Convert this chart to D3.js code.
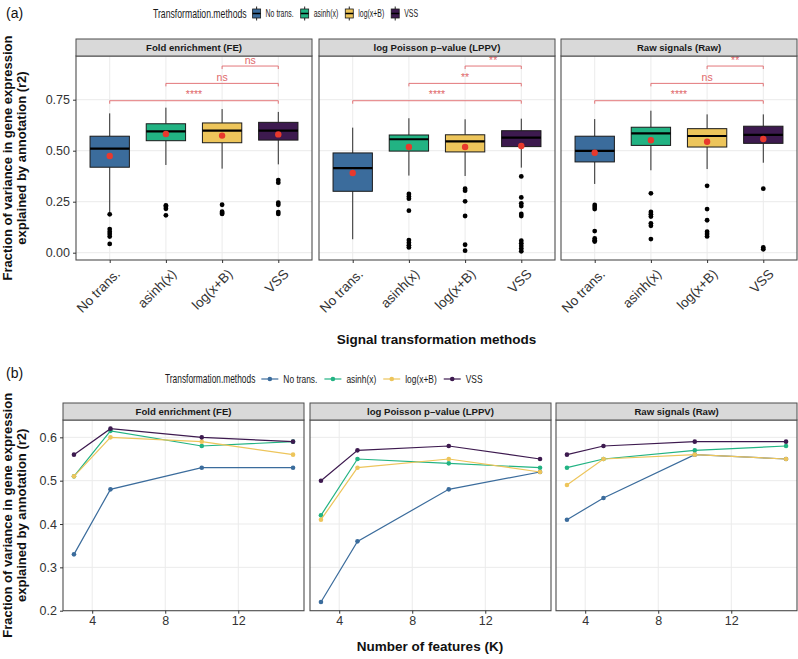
<!DOCTYPE html>
<html><head><meta charset="utf-8">
<script src="https://cdn.jsdelivr.net/npm/d3@7"></script>
<style>body{margin:0;background:#fff}svg{display:block}text{font-family:"Liberation Sans",Arial,Helvetica,sans-serif}</style>
</head><body><svg id="c" width="798" height="659"></svg>
<script>
// ---------------- DATA ----------------
const methods = ["No trans.", "asinh(x)", "log(x+B)", "VSS"];
const colors = ["#3B6C9C", "#22B383", "#EDC55B", "#3D1A4F"];
const signals = ["Fold enrichment (FE)", "log Poisson p\u2013value (LPPV)", "Raw signals (Raw)"];
const legendTitle = "Transformation.methods";

// box stats per method: [lower whisker, q1, median, q3, upper whisker]
const boxFE   = [[0.19,0.419,0.51,0.571,0.683],[0.43,0.549,0.595,0.632,0.711],[0.412,0.539,0.598,0.636,0.704],[0.433,0.552,0.598,0.639,0.69]];
const boxLPPV = [[0.066,0.301,0.415,0.489,0.613],[0.378,0.498,0.556,0.577,0.659],[0.376,0.494,0.546,0.578,0.654],[0.417,0.52,0.564,0.598,0.657]];
const boxRaw  = [[0.337,0.445,0.499,0.571,0.655],[0.404,0.526,0.585,0.615,0.696],[0.41,0.518,0.572,0.608,0.678],[0.441,0.536,0.578,0.62,0.678]];
const meanFE   = [0.474,0.582,0.574,0.58];
const meanLPPV = [0.391,0.518,0.518,0.523];
const meanRaw  = [0.49,0.551,0.544,0.557];
const outFE   = [[0.188,0.116,0.103,0.092,0.079,0.043],[0.232,0.225,0.215,0.183],[0.235,0.201,0.195,0.19],[0.356,0.343,0.245,0.235,0.199,0.19]];
const outLPPV = [[],[0.288,0.275,0.265,0.206,0.062,0.049,0.036,0.026],[0.314,0.304,0.252,0.18,0.039,0.01],[0.374,0.271,0.242,0.229,0.19,0.18,0.059,0.046,0.033,0.02,0.007]];
const outRaw  = [[0.234,0.224,0.214,0.106,0.07,0.061,0.055],[0.291,0.2,0.188,0.177,0.144,0.132,0.067],[0.328,0.214,0.159,0.103,0.092,0.08],[0.314,0.026,0.017]];

// significance brackets: method index pairs, bracket heights, labels per panel
const sigPairs = [[2,3],[1,3],[0,3]];
const sigHeights = [0.915, 0.83, 0.745];
const sigFE   = ["ns","ns","****"];
const sigLPPV = ["**","**","****"];
const sigRaw  = ["**","ns","****"];

const yTicksA = [0, 0.25, 0.5, 0.75];

// line panel
const features = [3, 5, 10, 15];
const lineFE   = [[0.33,0.48,0.53,0.53],[0.51,0.615,0.58,0.59],[0.51,0.60,0.59,0.56],[0.56,0.62,0.60,0.59]];
const lineLPPV = [[0.22,0.36,0.48,0.52],[0.42,0.55,0.54,0.53],[0.41,0.53,0.55,0.52],[0.50,0.57,0.58,0.55]];
const lineRaw  = [[0.41,0.46,0.56,0.55],[0.53,0.55,0.57,0.58],[0.49,0.55,0.56,0.55],[0.56,0.58,0.59,0.59]];
const yTicksB = [0.2, 0.3, 0.4, 0.5, 0.6];
const xTicksB = [4, 8, 12];

// ---------------- DRAW ----------------
const svg = d3.select("#c");
svg.append("rect").attr("width",798).attr("height",659).attr("fill","#fff");

const GRID="#EBEBEB", BORDER="#4d4d4d", SIG="#E0686B";
const boxes=[boxFE,boxLPPV,boxRaw], means=[meanFE,meanLPPV,meanRaw], outs=[outFE,outLPPV,outRaw], sigs=[sigFE,sigLPPV,sigRaw];
const lines=[lineFE,lineLPPV,lineRaw];

const A = {lefts:[76,319,561], w:236, top:56, bottom:260, stripTop:39};
const B = {lefts:[63,310,556], w:241, top:420, bottom:610.7, stripTop:403};

const yA = d3.scaleLinear().domain([-0.0358,0.9642]).range([A.bottom,A.top]);
const yB = d3.scaleLinear().domain([0.2,0.64]).range([B.bottom,B.top]);

function strip(x,w,top,bottom,label){
  svg.append("rect").attr("x",x).attr("y",top).attr("width",w).attr("height",bottom-top)
    .attr("fill","#D9D9D9").attr("stroke",BORDER).attr("stroke-width",1);
  svg.append("text").attr("x",x+w/2).attr("y",(top+bottom)/2).attr("dy","0.35em")
    .attr("text-anchor","middle").attr("font-size",9.6).attr("font-weight","bold").attr("fill","#1a1a1a").text(label);
}
function styleAxis(g,fs){
  g.select(".domain").remove();
  g.selectAll(".tick line").attr("stroke","#333");
  g.selectAll(".tick text").attr("font-size",fs).attr("fill","#333").attr("font-family","Liberation Sans, Arial, sans-serif");
}

// ---- Panel (a): boxplots ----
A.lefts.forEach((L,p)=>{
  const x = d3.scalePoint().domain(methods).range([L, L+A.w]).padding(0.6);
  const bw = x.step()*0.7;
  svg.append("g").selectAll("line.h").data(yTicksA).join("line")
    .attr("x1",L).attr("x2",L+A.w).attr("y1",d=>yA(d)).attr("y2",d=>yA(d)).attr("stroke",GRID).attr("stroke-width",1);
  svg.append("g").selectAll("line.v").data(methods).join("line")
    .attr("x1",d=>x(d)).attr("x2",d=>x(d)).attr("y1",A.top).attr("y2",A.bottom).attr("stroke",GRID).attr("stroke-width",1);
  const g = svg.append("g");
  methods.forEach((m,i)=>{
    const s = boxes[p][i], cx = x(m);
    g.append("line").attr("x1",cx).attr("x2",cx).attr("y1",yA(s[0])).attr("y2",yA(s[1])).attr("stroke","#2a2a2a").attr("stroke-width",1);
    g.append("line").attr("x1",cx).attr("x2",cx).attr("y1",yA(s[3])).attr("y2",yA(s[4])).attr("stroke","#2a2a2a").attr("stroke-width",1);
    g.append("rect").attr("x",cx-bw/2).attr("y",yA(s[3])).attr("width",bw).attr("height",yA(s[1])-yA(s[3]))
      .attr("fill",colors[i]).attr("stroke","#1a1a1a").attr("stroke-width",1);
    g.append("line").attr("x1",cx-bw/2).attr("x2",cx+bw/2).attr("y1",yA(s[2])).attr("y2",yA(s[2])).attr("stroke","#000").attr("stroke-width",2.2);
    g.selectAll(null).data(outs[p][i]).join("circle").attr("cx",cx).attr("cy",d=>yA(d)).attr("r",2.4).attr("fill","#000");
    g.append("circle").attr("cx",cx).attr("cy",yA(means[p][i])).attr("r",3.2).attr("fill","#E8392D");
  });
  sigPairs.forEach((pr,k)=>{
    const x1=x(methods[pr[0]]), x2=x(methods[pr[1]]), yy=yA(sigHeights[k]);
    g.append("path").attr("d",`M${x1},${yy+3}V${yy}H${x2}V${yy+3}`).attr("fill","none").attr("stroke",SIG).attr("stroke-width",0.9);
    g.append("text").attr("x",(x1+x2)/2).attr("y",yy-2.5).attr("text-anchor","middle").attr("font-size",10.5).attr("fill",SIG).text(sigs[p][k]);
  });
  svg.append("rect").attr("x",L).attr("y",A.top).attr("width",A.w).attr("height",A.bottom-A.top).attr("fill","none").attr("stroke",BORDER).attr("stroke-width",1.1);
  strip(L,A.w,A.stripTop,A.top,signals[p]);
  const xa = svg.append("g").attr("transform",`translate(0,${A.bottom})`).call(d3.axisBottom(x).tickSize(3));
  styleAxis(xa,13.5);
  xa.selectAll(".tick text").attr("x",0).attr("y",0).attr("dy","0.71em").attr("text-anchor","end")
    .attr("transform","translate(4,8) rotate(-45)");
  if(p===0){
    const ya = svg.append("g").attr("transform",`translate(${L},0)`).call(d3.axisLeft(yA).tickValues(yTicksA).tickFormat(d3.format(".2f")).tickSize(3).tickPadding(3));
    styleAxis(ya,12.5);
  }
});

// ---- Panel (b): lines ----
B.lefts.forEach((L,p)=>{
  const x = d3.scaleLinear().domain([2.4,15.6]).range([L, L+B.w]);
  svg.append("g").selectAll("line").data(yTicksB).join("line")
    .attr("x1",L).attr("x2",L+B.w).attr("y1",d=>yB(d)).attr("y2",d=>yB(d)).attr("stroke",GRID).attr("stroke-width",1);
  svg.append("g").selectAll("line").data(xTicksB).join("line")
    .attr("x1",d=>x(d)).attr("x2",d=>x(d)).attr("y1",B.top).attr("y2",B.bottom).attr("stroke",GRID).attr("stroke-width",1);
  const line = d3.line().x((d,j)=>x(features[j])).y(d=>yB(d));
  const g = svg.append("g");
  methods.forEach((m,i)=>{
    const vals = lines[p][i];
    g.append("path").attr("d",line(vals)).attr("fill","none").attr("stroke",colors[i]).attr("stroke-width",1.2);
    g.selectAll(null).data(vals).join("circle").attr("cx",(d,j)=>x(features[j])).attr("cy",d=>yB(d)).attr("r",2.3).attr("fill",colors[i]);
  });
  svg.append("rect").attr("x",L).attr("y",B.top).attr("width",B.w).attr("height",B.bottom-B.top).attr("fill","none").attr("stroke",BORDER).attr("stroke-width",1.1);
  strip(L,B.w,B.stripTop,B.top,signals[p]);
  const xa = svg.append("g").attr("transform",`translate(0,${B.bottom})`).call(d3.axisBottom(x).tickValues(xTicksB).tickFormat(d3.format("d")).tickSize(3).tickPadding(2));
  styleAxis(xa,12.5);
  if(p===0){
    const ya = svg.append("g").attr("transform",`translate(${L},0)`).call(d3.axisLeft(yB).tickValues(yTicksB).tickFormat(d3.format(".1f")).tickSize(3).tickPadding(3));
    styleAxis(ya,12.5);
  }
});

// ---- titles ----
function yTitle(cy){
  const g = svg.append("g").attr("transform",`translate(0,${cy}) rotate(-90)`);
  g.append("text").attr("y",12).attr("text-anchor","middle").attr("font-size",13).attr("font-weight","bold").attr("fill","#111").text("Fraction of variance in gene expression");
  g.append("text").attr("y",26).attr("text-anchor","middle").attr("font-size",13).attr("font-weight","bold").attr("fill","#111").text("explained by annotation (r2)");
}
yTitle((A.top+A.bottom)/2);
yTitle((B.top+B.bottom)/2);
svg.append("text").attr("x",(A.lefts[0]+A.lefts[2]+A.w)/2).attr("y",344).attr("text-anchor","middle").attr("font-size",13.5).attr("font-weight","bold").attr("fill","#111").text("Signal transformation methods");
svg.append("text").attr("x",(B.lefts[0]+B.lefts[2]+B.w)/2).attr("y",651).attr("text-anchor","middle").attr("font-size",13.5).attr("font-weight","bold").attr("fill","#111").text("Number of features (K)");
svg.append("text").attr("x",6).attr("y",18).attr("font-size",14).attr("fill","#111").text("(a)");
svg.append("text").attr("x",6).attr("y",378).attr("font-size",14).attr("fill","#111").text("(b)");

// ---- legends ----
function legend(y, x0, kind, keyW, sxT, sxL){
  const g = svg.append("g");
  const t = g.append("g").attr("transform",`translate(${x0},${y}) scale(${sxT},1)`)
    .append("text").attr("dy","0.35em").attr("font-size",12.5).attr("fill","#1a1a1a").text(legendTitle);
  let x = x0 + t.node().getComputedTextLength()*sxT + 6;
  methods.forEach((m,i)=>{
    const k = g.append("g").attr("transform",`translate(${x},${y})`);
    if(kind==="box"){
      k.append("line").attr("x1",keyW/2).attr("x2",keyW/2).attr("y1",-7).attr("y2",7).attr("stroke","#222");
      k.append("rect").attr("x",0).attr("y",-4.5).attr("width",keyW).attr("height",9).attr("fill",colors[i]).attr("stroke","#1a1a1a").attr("stroke-width",0.8);
      k.append("line").attr("x1",0).attr("x2",keyW).attr("stroke","#000").attr("stroke-width",1.5);
    } else {
      k.append("line").attr("x1",0).attr("x2",keyW).attr("stroke",colors[i]).attr("stroke-width",1.2);
      k.append("circle").attr("cx",keyW/2).attr("r",2.3).attr("fill",colors[i]);
    }
    x += keyW + 5;
    const lt = g.append("g").attr("transform",`translate(${x},${y}) scale(${sxL},1)`)
      .append("text").attr("dy","0.35em").attr("font-size",10.5).attr("fill","#1a1a1a").text(m);
    x += lt.node().getComputedTextLength()*sxL + 7;
  });
}
legend(13.5, 153, "box", 8, 0.694, 0.66);
legend(379, 165, "line", 17, 0.67, 0.8);
</script></body></html>
